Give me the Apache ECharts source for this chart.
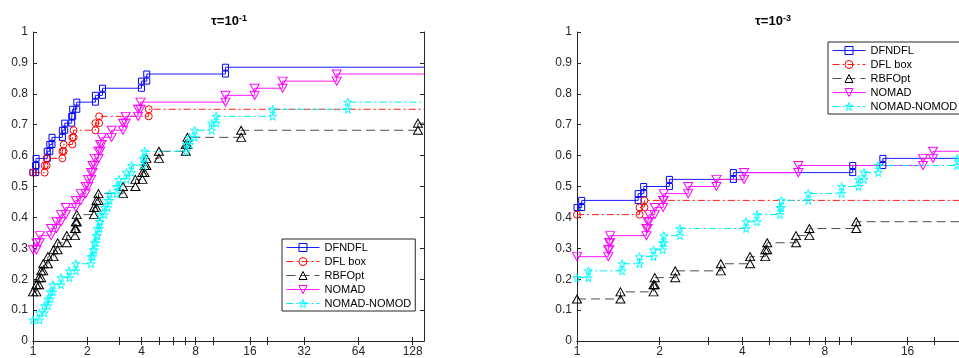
<!DOCTYPE html>
<html>
<head>
<meta charset="utf-8">
<script src="https://cdn.jsdelivr.net/npm/echarts@6/dist/echarts.min.js"></script>
<style>
  html, body { margin: 0; padding: 0; background: #fff; overflow: hidden; }
  /* right panel runs past the window edge, as in the original figure */
  #chart { width: 1000px; height: 358px; }
</style>
</head>
<body>
<div id="chart"></div>
<script>
  // performance profiles, 44 problems. [ratio, fraction solved] after each jump
  // tau = 1e-1 (left panel)
  const dfndflT1 = [[1, 0.545], [1.035, 0.568], [1.04, 0.591], [1.2, 0.614], [1.24, 0.636], [1.275, 0.659],
    [1.456, 0.682], [1.5, 0.705], [1.64, 0.727], [1.66, 0.75], [1.75, 0.773], [2.22, 0.795], [2.43, 0.818],
    [4.0, 0.841], [4.28, 0.864], [11.7, 0.886]]
  const dflboxT1 = [[1, 0.545], [1.16, 0.568], [1.19, 0.591], [1.456, 0.614], [1.48, 0.636], [1.654, 0.659],
    [1.68, 0.682], [2.22, 0.705], [2.33, 0.727], [4.39, 0.75]]
  const rbfoptT1 = [[1, 0.159], [1.044, 0.182], [1.08, 0.205], [1.11, 0.227], [1.14, 0.25], [1.21, 0.273],
    [1.3, 0.295], [1.37, 0.318], [1.54, 0.341], [1.71, 0.364], [1.73, 0.386], [1.75, 0.409], [2.18, 0.432],
    [2.25, 0.455], [2.31, 0.477], [3.16, 0.5], [3.7, 0.523], [4.05, 0.545], [4.16, 0.568], [4.26, 0.591],
    [5.0, 0.614], [7.05, 0.636], [7.2, 0.659], [14.3, 0.682], [137, 0.705]]
  const nomadT1 = [[1, 0.295], [1.044, 0.318], [1.09, 0.341], [1.26, 0.364], [1.35, 0.386], [1.43, 0.409],
    [1.52, 0.432], [1.73, 0.455], [1.84, 0.477], [1.96, 0.5], [2.02, 0.523], [2.1, 0.545], [2.14, 0.568],
    [2.2, 0.591], [2.31, 0.614], [2.36, 0.636], [2.41, 0.659], [2.73, 0.682], [3.16, 0.705], [3.27, 0.727],
    [3.83, 0.75], [3.95, 0.773], [11.7, 0.795], [17.0, 0.818], [24.3, 0.841], [48.5, 0.864]]
  const nomodT1 = [[1, 0.068], [1.085, 0.091], [1.157, 0.114], [1.207, 0.136], [1.25, 0.159], [1.29, 0.182],
    [1.43, 0.205], [1.59, 0.227], [1.73, 0.25], [2.1, 0.273], [2.15, 0.295], [2.19, 0.318], [2.24, 0.341],
    [2.28, 0.364], [2.34, 0.386], [2.36, 0.409], [2.49, 0.432], [2.6, 0.455], [2.66, 0.477], [2.91, 0.5],
    [3.0, 0.523], [3.3, 0.545], [3.52, 0.568], [4.08, 0.591], [4.17, 0.614], [7.1, 0.636], [7.4, 0.659],
    [7.9, 0.682], [9.8, 0.705], [10.4, 0.727], [21.4, 0.75], [55.8, 0.773]]

  // tau = 1e-3 (right panel)
  const dfndflT3 = [[1, 0.432], [1.04, 0.455], [1.67, 0.477], [1.75, 0.5], [2.17, 0.523], [3.71, 0.545],
    [10.1, 0.568], [13.0, 0.591]]
  const dflboxT3 = [[1, 0.409], [1.69, 0.432], [1.76, 0.455]]
  const rbfoptT3 = [[1, 0.136], [1.44, 0.159], [1.9, 0.182], [1.92, 0.205], [2.28, 0.227], [3.34, 0.25],
    [4.27, 0.273], [4.85, 0.295], [4.93, 0.318], [6.28, 0.341], [7.02, 0.364], [10.4, 0.386]]
  const nomadT3 = [[1, 0.273], [1.3, 0.295], [1.31, 0.318], [1.32, 0.341], [1.79, 0.364], [1.81, 0.386],
    [1.83, 0.409], [1.92, 0.432], [2.06, 0.455], [2.07, 0.477], [2.54, 0.5], [3.22, 0.523], [4.06, 0.545],
    [6.4, 0.568], [18.2, 0.591], [19.8, 0.614]]
  const nomodT3 = [[1, 0.205], [1.1, 0.227], [1.46, 0.25], [1.69, 0.273], [1.9, 0.295], [2.05, 0.318],
    [2.07, 0.341], [2.37, 0.364], [4.13, 0.386], [4.52, 0.409], [5.49, 0.432], [5.55, 0.455], [6.96, 0.477],
    [9.2, 0.5], [10.6, 0.523], [11.1, 0.545], [12.5, 0.568], [24.2, 0.591]]

  const xMaxT1 = 148
  const xMaxT3 = 27
  const xLabelsT1 = [1, 2, 4, 8, 16, 32, 64, 128]
  const xMinorT1 = [3, 5, 6, 7, 10, 20]
  const xLabelsT3 = [1, 2, 4, 8, 16]
  const xMinorT3 = [3, 5, 6, 7, 9, 10, 20]
  const titlesSup = ['-1', '-3']
  const solverNames = ['DFNDFL', 'DFL box', 'RBFOpt', 'NOMAD', 'NOMAD-NOMOD']

  const STAR = 'path://M50,0 L61,35 L98,35 L68,57 L79,91 L50,70 L21,91 L32,57 L2,35 L39,35 Z'
  const DOWNTRI = 'path://M0,0 L100,0 L50,90 Z'
  const styles = [
    { color: '#0000ff', line: '#1a1aff', dash: 'solid', symbol: 'rect', size: 6 },
    { color: '#ff0000', line: '#ff1a1a', dash: [7, 3, 2, 3], symbol: 'circle', size: 7 },
    { color: '#000000', line: '#4d4d4d', dash: [9, 5], symbol: 'triangle', size: [9, 8] },
    { color: '#ff00ff', line: '#ff1aff', dash: 'solid', symbol: DOWNTRI, size: [9, 8] },
    { color: '#00ffff', line: '#00eeee', dash: [7, 3, 2, 3], symbol: STAR, size: 8 },
  ]

  const FONT = '"Liberation Sans", Arial, Helvetica, sans-serif'
  const AX = '#262626'

  // stairs: horizontal then vertical, marker on every corner
  function stairs(pts, xmax) {
    const out = []
    for (let i = 0; i < pts.length; i++) {
      if (i > 0) out.push([pts[i][0], pts[i - 1][1]])
      out.push(pts[i])
    }
    out.push({ value: [xmax, pts[pts.length - 1][1]], symbol: 'none' })
    return out
  }

  function xAxes(grid, xmax, labels, minor) {
    const base = {
      gridIndex: grid,
      type: 'log',
      logBase: 2,
      min: 1,
      max: xmax,
      splitLine: { show: false },
      axisLine: { show: true, lineStyle: { color: AX, width: 1 } },
      axisTick: { show: true, inside: true, length: 4, lineStyle: { color: AX }, customValues: labels.concat(minor) },
    }
    return [
      Object.assign({}, base, {
        position: 'bottom',
        axisLabel: { show: true, customValues: labels, color: AX, fontSize: 12, fontFamily: FONT, margin: 5 },
      }),
      Object.assign({}, base, { position: 'top', axisLabel: { show: false } }),
    ]
  }

  function yAxes(grid) {
    const base = {
      gridIndex: grid,
      type: 'value',
      min: 0,
      max: 1,
      interval: 0.1,
      splitLine: { show: false },
      axisLine: { show: true, onZero: false, lineStyle: { color: AX, width: 1 } },
      axisTick: { show: true, inside: true, length: 4, lineStyle: { color: AX } },
    }
    return [
      Object.assign({}, base, {
        position: 'left',
        axisLabel: { color: AX, fontSize: 12, fontFamily: FONT, margin: 5 },
      }),
      Object.assign({}, base, { position: 'right', axisLabel: { show: false } }),
    ]
  }

  function panelSeries(sets, xmax, axisBase) {
    return sets.map((pts, i) => ({
      name: solverNames[i],
      type: 'line',
      xAxisIndex: axisBase,
      yAxisIndex: axisBase,
      data: stairs(pts, xmax),
      symbol: styles[i].symbol,
      symbolSize: styles[i].size,
      showSymbol: true,
      clip: true,
      lineStyle: { color: styles[i].line, width: 1, type: styles[i].dash },
      itemStyle: { color: 'rgba(0,0,0,0)', borderColor: styles[i].color, borderWidth: 1 },
      emphasis: { disabled: true },
    }))
  }

  const legendItems = solverNames.map((name, i) => ({
    name: name,
    itemStyle: { color: 'rgba(0,0,0,0)', borderColor: styles[i].color, borderWidth: 1 },
    lineStyle: { color: styles[i].line, width: 1, type: styles[i].dash },
  }))

  function legendAt(left, top) {
    return {
      left: left,
      top: top,
      orient: 'vertical',
      data: legendItems,
      itemWidth: 33,
      itemHeight: 10,
      itemGap: 3,
      padding: [3, 4, 2, 4],
      backgroundColor: '#fff',
      borderColor: AX,
      borderWidth: 1,
      selectedMode: false,
      textStyle: { color: '#000', fontSize: 11, fontFamily: FONT },
    }
  }

  function titleAt(x, sup) {
    return {
      left: x,
      top: 14,
      textAlign: 'center',
      text: '{a|τ=10}{b|' + sup + '}',
      padding: 0,
      textStyle: {
        rich: {
          a: { fontSize: 13, fontWeight: 'bold', fontFamily: FONT, color: '#000', lineHeight: 15 },
          b: { fontSize: 9, fontWeight: 'bold', fontFamily: FONT, color: '#000', lineHeight: 10, verticalAlign: 'top' },
        },
      },
    }
  }

  const chart = echarts.init(document.getElementById('chart'))
  chart.setOption({
    animation: false,
    backgroundColor: '#fff',
    title: [titleAt(229, titlesSup[0]), titleAt(773, titlesSup[1])],
    legend: [legendAt(282, 239), legendAt(828, 42)],
    grid: [
      { left: 33, top: 32, width: 391, height: 309 },
      { left: 577, top: 32, width: 393, height: 309 },
    ],
    xAxis: xAxes(0, xMaxT1, xLabelsT1, xMinorT1).concat(xAxes(1, xMaxT3, xLabelsT3, xMinorT3)),
    yAxis: yAxes(0).concat(yAxes(1)),
    series: panelSeries([dfndflT1, dflboxT1, rbfoptT1, nomadT1, nomodT1], xMaxT1, 0)
      .concat(panelSeries([dfndflT3, dflboxT3, rbfoptT3, nomadT3, nomodT3], xMaxT3, 2)),
  })
</script>
</body>
</html>
